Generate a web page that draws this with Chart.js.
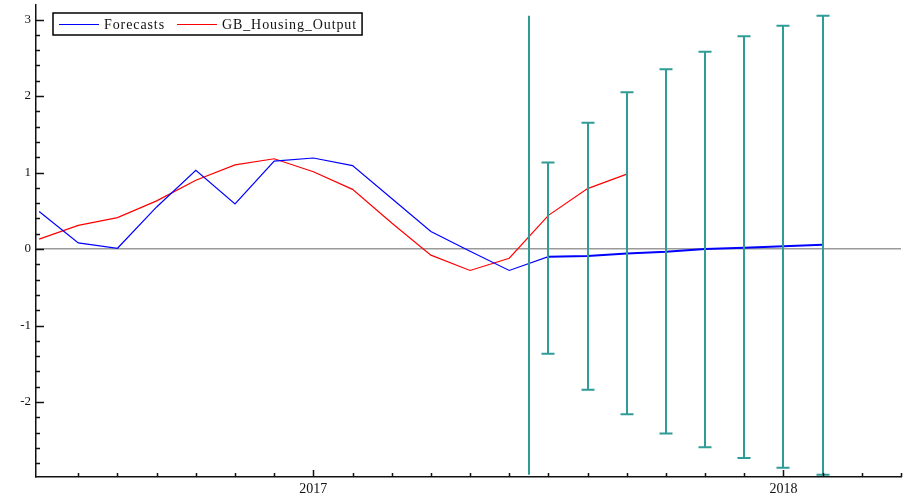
<!DOCTYPE html>
<html>
<head>
<meta charset="utf-8">
<script src="https://cdn.jsdelivr.net/npm/chart.js@4.4.1/dist/chart.umd.min.js"></script>
<style>
    html, body { margin: 0; padding: 0; background: #fff; }
    #wrap { width: 909px; height: 504px; }
</style>
</head>
<body>
<div id="wrap"><canvas id="forecastChart" width="909" height="504"></canvas></div>
<script>
// month index 0 = Jun 2016
const forecastMonths = [0, 1, 2, 3, 4, 5, 6, 7, 8, 9, 10, 11, 12, 13, 14, 15, 16, 17, 18, 19, 20];
const forecastValues = [0.49, 0.08, 0.01, 0.55, 1.03, 0.59, 1.15, 1.19, 1.09, 0.66, 0.23, -0.03, -0.28,
    -0.10, -0.09, -0.057, -0.035, 0.0, 0.017, 0.035, 0.055];

const outputMonths = [0, 1, 2, 3, 4, 5, 6, 7, 8, 9, 10, 11, 12, 13, 14, 15];
const outputValues = [0.13, 0.31, 0.41, 0.63, 0.90, 1.10, 1.18, 1.01, 0.78, 0.34, -0.08, -0.28, -0.12,
    0.44, 0.79, 0.98];

// forecast error bands
const bandMonths = [12.5, 13, 14, 15, 16, 17, 18, 19, 20];
const bandHigh = [3.05, 1.13, 1.65, 2.05, 2.35, 2.58, 2.78, 2.92, 3.05];
const bandLow = [-2.95, -1.37, -1.84, -2.16, -2.41, -2.59, -2.73, -2.86, -2.95];
const bandCaps = [false, true, true, true, true, true, true, true, true];

const yearLabels = ['2017', '2018'];
const yearMonths = [7, 19];

const forecastStart = 13;
const tealColor = '#2f9c98';

function toPoints(xs, ys) {
    return xs.map((x, i) => ({ x: x, y: ys[i] }));
}

// ticks drawn inward like the original package
const innerTicks = {
    id: 'innerTicks',
    afterDraw(chart) {
        const ctx = chart.ctx;
        const xs = chart.scales.x;
        const ys = chart.scales.y;
        const area = chart.chartArea;
        ctx.save();
        ctx.strokeStyle = '#111';
        ctx.lineWidth = 1.5;
        ctx.beginPath();
        for (let m = 1; m <= 22; m++) {
            const px = Math.round(xs.getPixelForValue(m)) + 0.5;
            const len = yearMonths.includes(m) ? 7 : 4;
            ctx.moveTo(px, area.bottom);
            ctx.lineTo(px, area.bottom - len);
        }
        for (let k = -14; k <= 15; k++) {
            const v = k / 5;
            if (v < ys.min || v > ys.max) continue;
            const py = Math.round(ys.getPixelForValue(v)) + 0.5;
            const len = k % 5 === 0 ? 8 : 4;
            ctx.moveTo(area.left, py);
            ctx.lineTo(area.left + len, py);
        }
        ctx.stroke();
        ctx.restore();
    }
};

const errorBars = {
    id: 'errorBars',
    afterDatasetsDraw(chart) {
        const ctx = chart.ctx;
        const xs = chart.scales.x;
        const ys = chart.scales.y;
        ctx.save();
        ctx.strokeStyle = tealColor;
        ctx.lineWidth = 2;
        bandMonths.forEach((m, i) => {
            const px = Math.round(xs.getPixelForValue(m));
            const top = ys.getPixelForValue(bandHigh[i]);
            const bottom = ys.getPixelForValue(bandLow[i]);
            ctx.beginPath();
            ctx.moveTo(px, top);
            ctx.lineTo(px, bottom);
            if (bandCaps[i]) {
                ctx.moveTo(px - 6.5, top);
                ctx.lineTo(px + 6.5, top);
                ctx.moveTo(px - 6.5, bottom);
                ctx.lineTo(px + 6.5, bottom);
            }
            ctx.stroke();
        });
        ctx.restore();
    }
};

const boxLegend = {
    id: 'boxLegend',
    afterDraw(chart) {
        const ctx = chart.ctx;
        const sets = chart.data.datasets;
        ctx.save();
        ctx.font = '14px "Liberation Serif"';
        ctx.letterSpacing = '0.9px';
        ctx.textBaseline = 'middle';
        const y = 24.5;
        let x = 59;
        sets.forEach((ds, i) => {
            ctx.strokeStyle = ds.borderColor;
            ctx.lineWidth = 1;
            ctx.beginPath();
            ctx.moveTo(x, y);
            ctx.lineTo(x + 40, y);
            ctx.stroke();
            ctx.fillStyle = '#111';
            ctx.fillText(ds.label, x + 45, y + 1);
            x += 45 + ctx.measureText(ds.label).width + 12;
        });
        ctx.strokeStyle = '#000';
        ctx.lineWidth = 1.5;
        ctx.strokeRect(53, 13, x - 53 - 7, 22);
        ctx.restore();
    }
};

const ctx = document.getElementById('forecastChart').getContext('2d');

Chart.defaults.font.family = '"Liberation Serif", serif';
Chart.defaults.color = '#111';

new Chart(ctx, {
    type: 'line',
    data: {
        datasets: [
            {
                label: 'Forecasts',
                data: toPoints(forecastMonths, forecastValues),
                borderColor: '#0000ff',
                borderWidth: 1.2,
                pointRadius: 0,
                tension: 0,
                segment: {
                    borderWidth: c => c.p0DataIndex >= forecastStart ? 2 : 1.2
                }
            },
            {
                label: 'GB_Housing_Output',
                data: toPoints(outputMonths, outputValues),
                borderColor: '#ff0000',
                borderWidth: 1.2,
                pointRadius: 0,
                tension: 0
            }
        ]
    },
    options: {
        responsive: false,
        animation: false,
        layout: {
            padding: { top: 5, right: 8, left: 0, bottom: 0 }
        },
        plugins: {
            legend: { display: false },
            tooltip: { enabled: false }
        },
        scales: {
            x: {
                type: 'linear',
                min: -0.08,
                max: 22,
                afterFit: s => {
                    s.height = 27;
                    s.paddingLeft = 0;
                    s.paddingRight = 0;
                },
                ticks: {
                    stepSize: 1,
                    autoSkip: false,
                    maxRotation: 0,
                    includeBounds: false,
                    padding: 4,
                    font: { size: 14 },
                    callback: v => {
                        const i = yearMonths.indexOf(v);
                        return i >= 0 ? yearLabels[i] : '';
                    }
                },
                grid: { display: false, drawTicks: false },
                border: { display: true, color: '#111', width: 1.5 }
            },
            y: {
                min: -2.98,
                max: 3.19,
                afterFit: s => {
                    s.width = 36;
                    s.paddingTop = 0;
                    s.paddingBottom = 0;
                },
                ticks: {
                    stepSize: 1,
                    includeBounds: false,
                    padding: 5,
                    font: { size: 13 }
                },
                grid: {
                    drawTicks: false,
                    color: c => c.tick && c.tick.value === 0 ? '#9a9a9a' : 'rgba(0,0,0,0)',
                    lineWidth: 1.5
                },
                border: { display: true, color: '#111', width: 1.5 }
            }
        }
    },
    plugins: [errorBars, innerTicks, boxLegend]
});
</script>
</body>
</html>
